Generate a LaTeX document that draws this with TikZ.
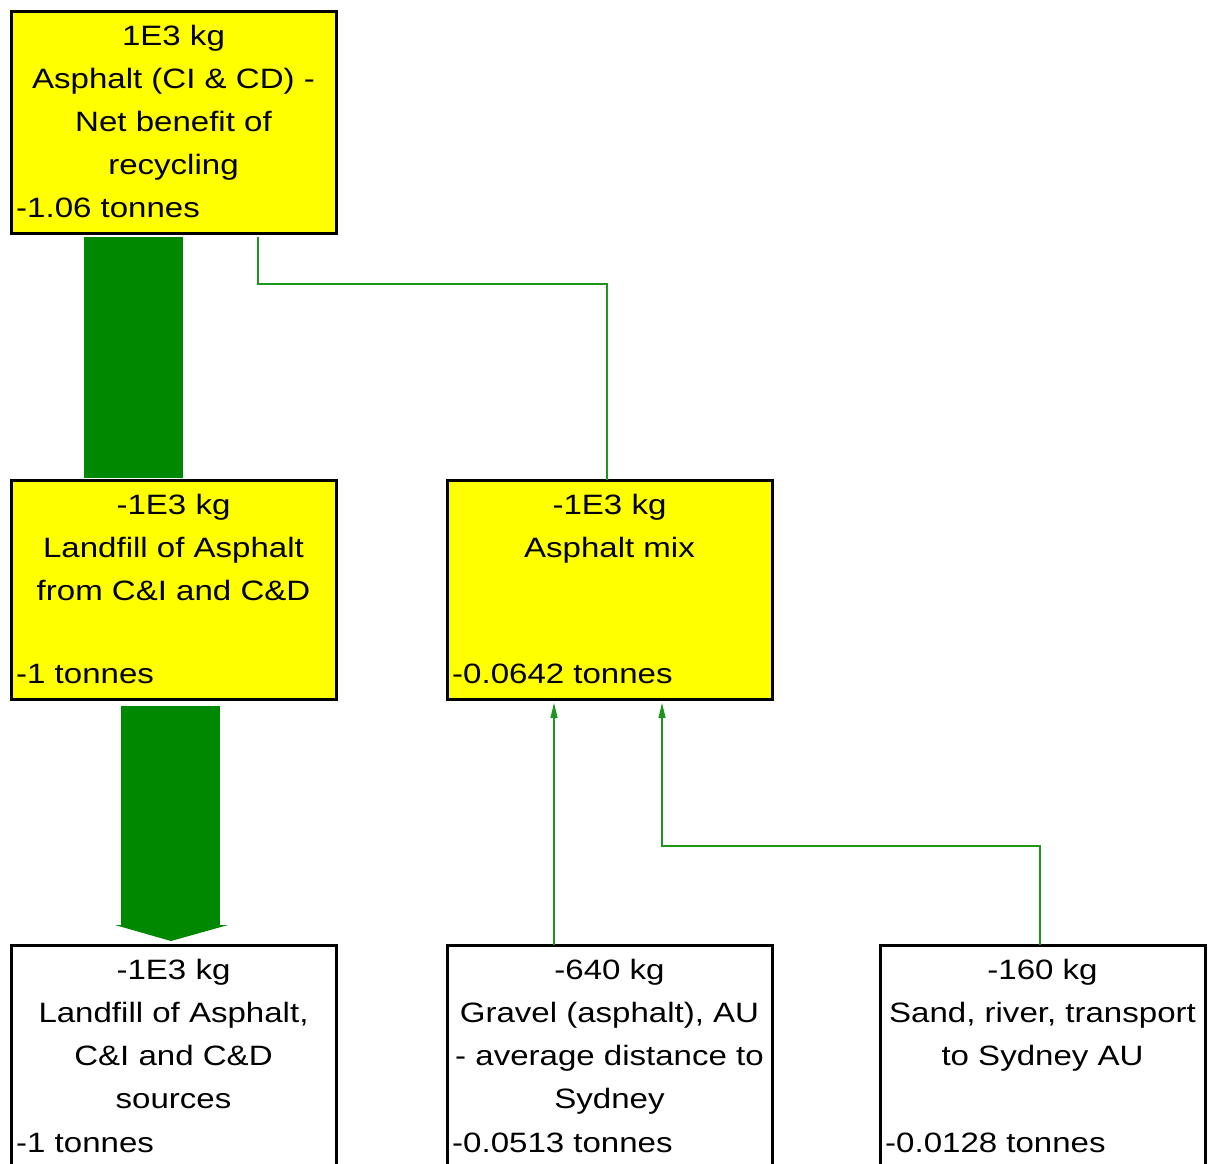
\documentclass[tikz,border=0pt]{standalone}
\usepackage{fontspec}
\setmainfont{Liberation Sans}[FakeStretch=1.18]
\usetikzlibrary{arrows.meta}
\definecolor{flowgreen}{HTML}{008800}
\definecolor{linkgreen}{HTML}{1E961E}
\definecolor{boxyellow}{HTML}{FFFF00}

\begin{document}
\begin{tikzpicture}[x=1pt,y=-1pt,
  box/.style={draw=black,line width=3pt,minimum width=325pt,inner sep=0pt,outer sep=0pt,anchor=north west},
  procbox/.style={box,fill=boxyellow},
  lines/.style={anchor=north,inner sep=0pt,align=center,font=\fontsize{28}{43}\selectfont},
  amount/.style={anchor=base west,inner sep=0pt,font=\fontsize{28}{43}\selectfont},
  bigflow/.style={fill=flowgreen},
  link/.style={draw=linkgreen,line width=1.2pt},
  feed/.style={link,-{Triangle[length=15pt,width=7pt]}}]

\path[use as bounding box] (0,0) rectangle (1214,1163);
\clip (0,0) rectangle (1214,1163);

% process boxes
\node[procbox,minimum height=222pt] (top) at (11,11) {};
\node[procbox,minimum height=219pt] (landfill) at (11,480) {};
\node[procbox,minimum height=219pt] (mix) at (447,480) {};
\node[box,minimum height=223pt] (landsink) at (11,945) {};
\node[box,minimum height=223pt] (gravel) at (447,945) {};
\node[box,minimum height=223pt] (sand) at (880,945) {};

% box texts
\node[lines] (topT) at (173.5,15.5) {\rule{0pt}{30pt}1E3 kg\\Asphalt (CI \& CD) -\\Net benefit of\\recycling};
\node[amount] (topA) at (16,217.5) {-1.06 tonnes};

\node[lines] (landfillT) at (173.5,484.5) {\rule{0pt}{30pt}-1E3 kg\\Landfill of Asphalt\\from C\&I and C\&D};
\node[amount] (landfillA) at (16,683.5) {-1 tonnes};

\node[lines] (mixT) at (609.5,484.5) {\rule{0pt}{30pt}-1E3 kg\\Asphalt mix};
\node[amount] (mixA) at (452,683.5) {-0.0642 tonnes};

\node[lines] (landsinkT) at (173.5,949.5) {\rule{0pt}{30pt}-1E3 kg\\Landfill of Asphalt,\\C\&I and C\&D\\sources};
\node[amount] (landsinkA) at (16,1152.5) {-1 tonnes};

\node[lines] (gravelT) at (609.5,949.5) {\rule{0pt}{30pt}-640 kg\\Gravel (asphalt), AU\\- average distance to\\Sydney};
\node[amount] (gravelA) at (452,1152.5) {-0.0513 tonnes};

\node[lines] (sandT) at (1042.5,949.5) {\rule{0pt}{30pt}-160 kg\\Sand, river, transport\\to Sydney AU};
\node[amount] (sandA) at (885,1152.5) {-0.0128 tonnes};

% wide flows
\fill[bigflow] ([xshift=-89.5pt,yshift=-4pt]top.south) rectangle ([xshift=9.5pt,yshift=2pt]landfill.north);
\fill[bigflow] ([xshift=-52.5pt,yshift=-7pt]landfill.south) rectangle ([xshift=46.5pt,yshift=20pt]landsink.north);
\fill[bigflow] ([xshift=-58.5pt,yshift=20pt]landsink.north) -- ([xshift=54.5pt,yshift=20pt]landsink.north)
  -- ([xshift=-2.5pt,yshift=4pt]landsink.north) -- cycle;

% thin links
\draw[link] ([xshift=84.5pt,yshift=-4pt]top.south) -- ++(0,47) -| ([xshift=-2.5pt]mix.north);
\draw[feed] ([xshift=-55.5pt]gravel.north) -- ([xshift=-55.5pt,yshift=-4pt]mix.south);
\draw[feed] ([xshift=-2.5pt]sand.north) -- ++(0,-99) -| ([xshift=52.5pt,yshift=-4pt]mix.south);
\end{tikzpicture}
\end{document}
